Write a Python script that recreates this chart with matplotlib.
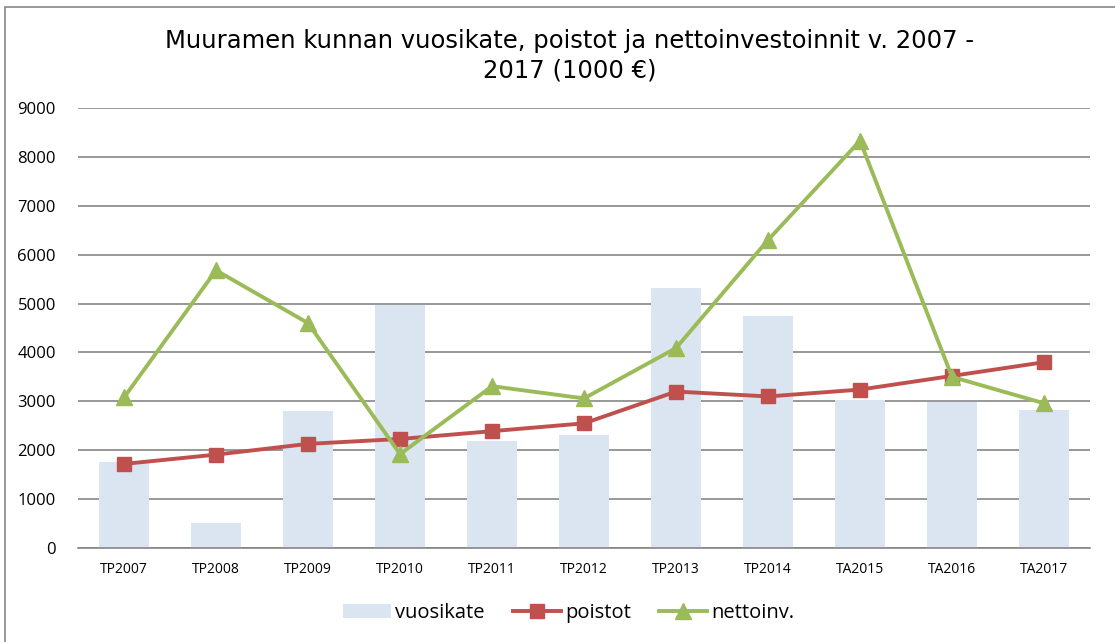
import numpy as np
import matplotlib.pyplot as plt
from matplotlib.patches import Rectangle

# Datos (1000 €)
vuodet = ['TP2007', 'TP2008', 'TP2009', 'TP2010', 'TP2011', 'TP2012',
          'TP2013', 'TP2014', 'TA2015', 'TA2016', 'TA2017']
vuosikate = [1750, 520, 2800, 4980, 2190, 2320, 5320, 4750, 3020, 2980, 2820]
poistot = [1720, 1910, 2130, 2230, 2390, 2550, 3200, 3100, 3240, 3520, 3800]
nettoinv = [3080, 5680, 4600, 1920, 3310, 3060, 4090, 6300, 8330, 3500, 2960]

c_bar = '#dbe5f1'
c_poi = '#c0504d'
c_net = '#9bbb59'

fig = plt.figure(figsize=(11.15, 6.42), dpi=100)
ax = fig.add_axes([0.070, 0.1464, 0.9076, 0.6854])

x = np.arange(len(vuodet))
ax.bar(x, vuosikate, width=0.55, color=c_bar, label='vuosikate', zorder=2)
ax.plot(x, poistot, color=c_poi, lw=2.8, marker='s', markersize=10,
        label='poistot', zorder=3)
ax.plot(x, nettoinv, color=c_net, lw=2.8, marker='^', markersize=11,
        label='nettoinv.', zorder=4)

ax.set_xlim(-0.5, len(vuodet) - 0.5)
ax.set_ylim(0, 9000)
ax.set_yticks(np.arange(0, 9001, 1000))
ax.yaxis.grid(True, color='#868686', lw=1.2, zorder=0)
ax.set_axisbelow(True)
for s in ['left', 'right', 'top']:
    ax.spines[s].set_visible(False)
ax.spines['bottom'].set_color('#868686')
ax.spines['bottom'].set_linewidth(1.2)
ax.tick_params(axis='y', length=0, pad=16, labelsize=12)
ax.tick_params(axis='x', length=0, pad=10, labelsize=10)
ax.set_xticks(x)
ax.set_xticklabels(vuodet)
for lab in ax.get_xticklabels() + ax.get_yticklabels():
    lab.set_fontfamily('Open Sans')

fig.text(0.511, 0.913, 'Muuramen kunnan vuosikate, poistot ja nettoinvestoinnit v. 2007 -\n2017 (1000 €)',
         ha='center', va='center', fontsize=17.5, linespacing=1.3)

h, l = ax.get_legend_handles_labels()
order = [l.index('vuosikate'), l.index('poistot'), l.index('nettoinv.')]
leg = fig.legend([h[i] for i in order], [l[i] for i in order],
                 loc='center', bbox_to_anchor=(0.51, 0.045), ncol=3, frameon=False,
                 prop={'family': 'Open Sans', 'size': 14.5}, handlelength=2.4,
                 columnspacing=1.4, handletextpad=0.2)

# reunaviiva
fig.patches.append(Rectangle((5 / 1115, -0.1), 1.2, 1.1 - 7 / 642,
                             transform=fig.transFigure, fill=False,
                             edgecolor='#868686', lw=1.2))

fig.savefig('out.png', dpi=100)
